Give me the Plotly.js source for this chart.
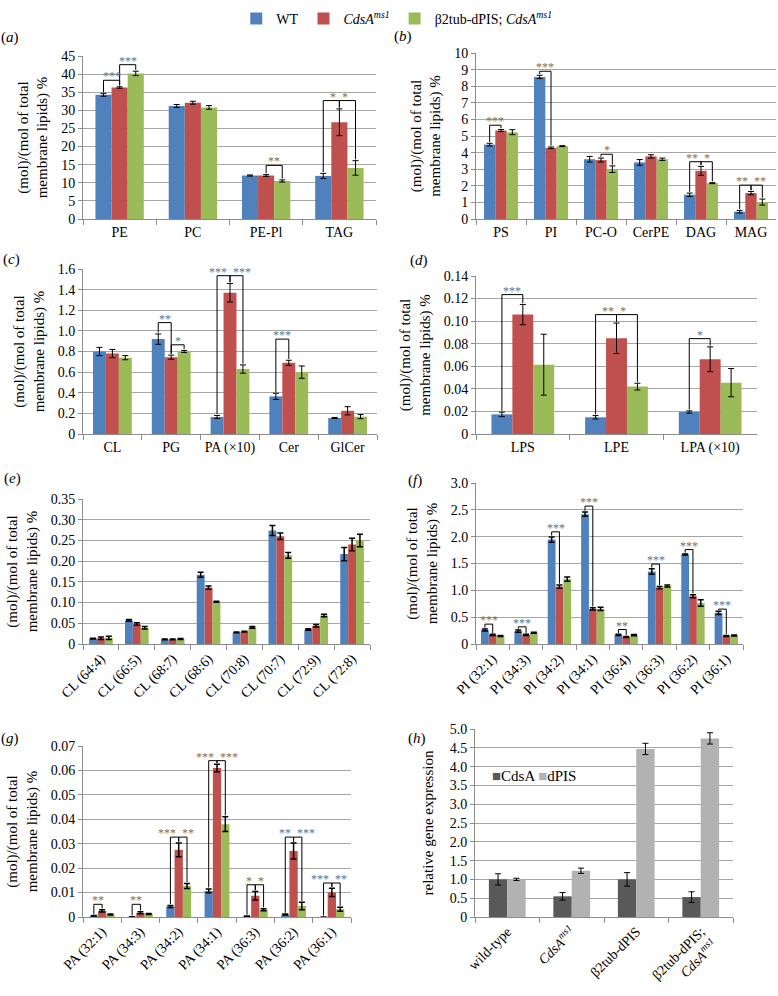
<!DOCTYPE html>
<html>
<head>
<meta charset="utf-8">
<script src="https://cdn.plot.ly/plotly-3.0.1.min.js"></script>
<style>
  html, body { margin: 0; padding: 0; background: #fff; }
  #chart { width: 778px; height: 996px; }
</style>
</head>
<body>
<div id="chart"></div>
<script>
// lipid profiles, three genotypes (WT, CdsA, rescue)
const seriesNames = ['WT', '<i>CdsA</i><sup><i>ms1</i></sup>', 'β2tub-dPIS; <i>CdsA</i><sup><i>ms1</i></sup>'];

// (a)
const catsA = ['PE', 'PC', 'PE-Pl', 'TAG'];
const wtA = [34.3, 31.2, 12.0, 11.9];
const wtErrA = [0.4, 0.4, 0.15, 0.7];
const cdsA = [36.3, 32.1, 12.0, 26.7];
const cdsErrA = [0.2, 0.4, 0.25, 3.7];
const rescA = [40.2, 30.8, 10.5, 14.1];
const rescErrA = [0.6, 0.5, 0.3, 2.0];

// (b)
const catsB = ['PS', 'PI', 'PC-O', 'CerPE', 'DAG', 'MAG'];
const wtB = [4.48, 8.56, 3.6, 3.41, 1.46, 0.44];
const wtErrB = [0.08, 0.1, 0.17, 0.17, 0.1, 0.08];
const cdsB = [5.33, 4.29, 3.55, 3.77, 2.9, 1.56];
const cdsErrB = [0.06, 0.05, 0.12, 0.1, 0.27, 0.1];
const rescB = [5.23, 4.39, 3.0, 3.6, 2.16, 1.02];
const rescErrB = [0.15, 0.03, 0.2, 0.07, 0.03, 0.18];

// (c)
const catsC = ['CL', 'PG', 'PA (×10)', 'Cer', 'GlCer'];
const wtC = [0.8, 0.92, 0.165, 0.365, 0.155];
const wtErrC = [0.04, 0.05, 0.015, 0.03, 0.005];
const cdsC = [0.78, 0.745, 1.37, 0.69, 0.225];
const cdsErrC = [0.04, 0.02, 0.09, 0.025, 0.04];
const rescC = [0.74, 0.8, 0.63, 0.6, 0.168];
const rescErrC = [0.02, 0.01, 0.04, 0.06, 0.02];

// (d)
const catsD = ['LPS', 'LPE', 'LPA (×10)'];
const wtD = [0.0174, 0.0148, 0.0195];
const wtErrD = [0.002, 0.0015, 0.001];
const cdsD = [0.1058, 0.0848, 0.0662];
const cdsErrD = [0.009, 0.0135, 0.011];
const rescD = [0.0614, 0.042, 0.0455];
const rescErrD = [0.027, 0.003, 0.0125];

// (e)
const catsE = ['CL (64:4)', 'CL (66:5)', 'CL (68:7)', 'CL (68:6)', 'CL (70:8)', 'CL (70:7)', 'CL (72:9)', 'CL (72:8)'];
const wtE = [0.013, 0.057, 0.011, 0.167, 0.028, 0.274, 0.035, 0.217];
const wtErrE = [0.001, 0.002, 0.001, 0.006, 0.001, 0.012, 0.002, 0.016];
const cdsE = [0.014, 0.048, 0.011, 0.136, 0.030, 0.260, 0.044, 0.240];
const cdsErrE = [0.003, 0.003, 0.001, 0.004, 0.001, 0.008, 0.003, 0.015];
const rescE = [0.015, 0.039, 0.012, 0.102, 0.040, 0.214, 0.069, 0.250];
const rescErrE = [0.004, 0.003, 0.001, 0.001, 0.002, 0.007, 0.003, 0.015];

// (f)
const catsF = ['PI (32:1)', 'PI (34:3)', 'PI (34:2)', 'PI (34:1)', 'PI (36:4)', 'PI (36:3)', 'PI (36:2)', 'PI (36:1)'];
const wtF = [0.26, 0.24, 1.945, 2.42, 0.17, 1.35, 1.667, 0.58];
const wtErrF = [0.02, 0.02, 0.05, 0.04, 0.01, 0.05, 0.01, 0.03];
const cdsF = [0.17, 0.17, 1.07, 0.654, 0.13, 1.05, 0.89, 0.15];
const cdsErrF = [0.01, 0.01, 0.03, 0.02, 0.01, 0.02, 0.03, 0.01];
const rescF = [0.15, 0.21, 1.21, 0.654, 0.165, 1.08, 0.765, 0.16];
const rescErrF = [0.01, 0.01, 0.04, 0.03, 0.01, 0.02, 0.06, 0.01];

// (g)
const catsG = ['PA (32:1)', 'PA (34:3)', 'PA (34:2)', 'PA (34:1)', 'PA (36:3)', 'PA (36:2)', 'PA (36:1)'];
const wtG = [0.0005, 0.0001, 0.0043, 0.0107, 0.0003, 0.001, 0];
const wtErrG = [0.0001, 0, 0.0004, 0.0008, 0.0001, 0.0002, 0];
const cdsG = [0.0025, 0.0017, 0.0275, 0.061, 0.0087, 0.027, 0.0101];
const cdsErrG = [0.0005, 0.0004, 0.0028, 0.0015, 0.0017, 0.0033, 0.0017];
const rescG = [0.001, 0.0012, 0.0127, 0.038, 0.003, 0.0045, 0.0032];
const rescErrG = [0.0002, 0.0002, 0.001, 0.003, 0.0004, 0.0015, 0.0008];

// (h) qPCR
const catsH = ['wild-type', '<i>CdsA</i><sup><i>ms1</i></sup>', 'β2tub-dPIS', 'β2tub-dPIS;<br><i>CdsA</i><sup><i>ms1</i></sup>'];
const genesH = ['CdsA', 'dPIS'];
const cdsaH = [1.0, 0.55, 1.0, 0.53];
const cdsaErrH = [0.15, 0.1, 0.18, 0.14];
const dpisH = [1.0, 1.23, 4.47, 4.75];
const dpisErrH = [0.03, 0.07, 0.15, 0.15];

// y ticks
const ticksA = ['0', '5', '10', '15', '20', '25', '30', '35', '40', '45'];
const ticksB = ['0', '1', '2', '3', '4', '5', '6', '7', '8', '9', '10'];
const ticksC = ['0', '0.2', '0.4', '0.6', '0.8', '1.0', '1.2', '1.4', '1.6'];
const ticksD = ['0', '0.02', '0.04', '0.06', '0.08', '0.10', '0.12', '0.14'];
const ticksE = ['0', '0.05', '0.10', '0.15', '0.20', '0.25', '0.30', '0.35'];
const ticksF = ['0', '0.5', '1.0', '1.5', '2.0', '2.5', '3.0'];
const ticksG = ['0', '0.01', '0.02', '0.03', '0.04', '0.05', '0.06', '0.07'];
const ticksH = ['0', '0.5', '1.0', '1.5', '2.0', '2.5', '3.0', '3.5', '4.0', '4.5', '5.0'];

// significance brackets: [category, series from, series to, bracket top, stars]
const sigA = [[0, 0, 1, 38.3, '***'], [0, 1, 2, 42.6, '***'], [2, 1, 2, 14.8, '**'], [3, 0, 1, 32.7, '*'], [3, 1, 2, 32.7, '*']];
const sigB = [[0, 0, 1, 5.65, '***'], [1, 0, 1, 8.9, '***'], [2, 1, 2, 3.9, '*'], [4, 0, 1, 3.45, '**'], [4, 1, 2, 3.45, '*'], [5, 0, 1, 2.04, '**'], [5, 1, 2, 2.04, '**']];
const sigC = [[1, 0, 1, 1.08, '**'], [1, 1, 2, 0.865, '*'], [2, 0, 1, 1.535, '***'], [2, 1, 2, 1.535, '***'], [3, 0, 1, 0.92, '***']];
const sigD = [[0, 0, 1, 0.1235, '***'], [1, 0, 1, 0.1058, '**'], [1, 1, 2, 0.1058, '*'], [2, 0, 1, 0.0845, '*']];
const sigF = [[0, 0, 1, 0.37, '***'], [1, 0, 1, 0.32, '***'], [2, 0, 1, 2.09, '***'], [3, 0, 1, 2.57, '***'], [4, 0, 1, 0.27, '**'], [5, 0, 1, 1.49, '***'], [6, 0, 1, 1.76, '***'], [7, 0, 1, 0.65, '***']];
const sigG = [[0, 0, 1, 0.0052, '**'], [1, 0, 1, 0.0052, '**'], [2, 0, 1, 0.0327, '***'], [2, 1, 2, 0.0327, '**'], [3, 0, 1, 0.064, '***'], [3, 1, 2, 0.064, '***'], [4, 0, 1, 0.0132, '*'], [4, 1, 2, 0.0132, '*'], [5, 0, 1, 0.0327, '**'], [5, 1, 2, 0.0327, '***'], [6, 0, 1, 0.0139, '***'], [6, 1, 2, 0.0139, '**']];

const colors3 = ['#4f81bd', '#c0504d', '#9bbb59'];
const colorsH = ['#595959', '#b2b2b2'];
const W = 778, H = 996;
const FONT = '"Liberation Serif", "Times New Roman", serif';

function xdom(a, b) { return [a / W, b / W]; }
function ydom(top, bottom) { return [1 - bottom / H, 1 - top / H]; }

let traces = [];
let shapes = [];
let annotations = [];
let layout = {
  width: W, height: H,
  margin: {l: 0, r: 0, t: 0, b: 0},
  paper_bgcolor: '#fff', plot_bgcolor: '#fff',
  font: {family: FONT, size: 14, color: '#000'},
  showlegend: true,
  legend: {
    orientation: 'h', x: 0.51, xanchor: 'center', y: 1 - 3 / H, yanchor: 'top',
    font: {family: FONT, size: 14}, traceorder: 'normal'
  }
};

function panel(n, cats, vals, errs, colors, names, gap, ticks, dx, dy, opts) {
  const ax = n === 1 ? '' : String(n);
  const k = vals.length;
  const w = (1 - gap) / k;
  for (let s = 0; s < k; s++) {
    traces.push({
      type: 'bar', x: cats, y: vals[s], name: names[s],
      xaxis: 'x' + ax, yaxis: 'y' + ax,
      marker: {color: colors[s]},
      width: w, offset: -(1 - gap) / 2 + s * w,
      error_y: {type: 'data', array: errs[s], color: '#000', thickness: opts.eth || 1, width: 3},
      showlegend: !!opts.legend, hoverinfo: 'skip'
    });
  }
  const tv = ticks.map(Number);
  const yr = tv[tv.length - 1];
  layout['xaxis' + ax] = {
    domain: xdom(dx[0], dx[1]), anchor: 'y' + ax, type: 'category',
    showline: true, linecolor: '#8c8c8c', linewidth: 1,
    ticks: 'outside', tickson: 'boundaries', ticklen: 5, tickcolor: '#8c8c8c',
    showgrid: false, tickangle: opts.angle || 0,
    tickfont: {family: FONT, size: 14},
    fixedrange: true
  };
  layout['yaxis' + ax] = {
    domain: ydom(dy[0], dy[1]), anchor: 'x' + ax, range: [0, yr],
    tickmode: 'array', tickvals: tv, ticktext: ticks,
    showline: true, linecolor: '#8c8c8c', ticks: 'outside', ticklen: 4, tickcolor: '#8c8c8c',
    showgrid: true, gridcolor: '#a6a6a6', gridwidth: 1, zeroline: false,
    tickfont: {family: FONT, size: 14},
    title: {text: opts.ytitle, font: {family: FONT, size: 15}, standoff: opts.standoff || 9},
    fixedrange: true
  };
  // brackets
  const sig = opts.sig || [];
  const pad = yr * 0.008;
  sig.forEach(function (b) {
    const i = b[0], s1 = b[1], s2 = b[2], top = b[3];
    const x1 = i - (1 - gap) / 2 + (s1 + 0.5) * w;
    const x2 = i - (1 - gap) / 2 + (s2 + 0.5) * w;
    const y1 = vals[s1][i] + errs[s1][i] + pad;
    const y2 = vals[s2][i] + errs[s2][i] + pad;
    const base = {type: 'line', xref: 'x' + ax, yref: 'y' + ax, line: {color: '#000', width: 1}};
    shapes.push(Object.assign({}, base, {x0: x1, x1: x1, y0: y1, y1: top}));
    shapes.push(Object.assign({}, base, {x0: x1, x1: x2, y0: top, y1: top}));
    shapes.push(Object.assign({}, base, {x0: x2, x1: x2, y0: top, y1: y2}));
    // neighbouring brackets on the same group: push labels apart
    const hasRight = sig.some(o => o !== b && o[0] === i && o[1] === s2 && o[3] === top);
    const hasLeft = sig.some(o => o !== b && o[0] === i && o[2] === s1 && o[3] === top);
    let xa = 'center', xx = (x1 + x2) / 2, xs = 0;
    if (hasRight) { xa = 'right'; xx = x2; xs = -1; }
    else if (hasLeft) { xa = 'left'; xx = x1; xs = 1; }
    annotations.push({
      xref: 'x' + ax, yref: 'y' + ax, x: xx, y: top, xanchor: xa, xshift: xs,
      yanchor: 'bottom', yshift: -5,
      text: b[4], showarrow: false, font: {family: FONT, size: 12, color: '#707070'}
    });
  });
}

const lipidTitle = '(mol)/(mol of total<br>membrane lipids) %';

panel(1, catsA, [wtA, cdsA, rescA], [wtErrA, cdsErrA, rescErrA], colors3, seriesNames, 0.34, ticksA,
  [83, 376], [56, 219], {ytitle: lipidTitle, sig: sigA, legend: true});
panel(2, catsB, [wtB, cdsB, rescB], [wtErrB, cdsErrB, rescErrB], colors3, seriesNames, 0.32, ticksB,
  [476, 776], [53, 219], {ytitle: lipidTitle, sig: sigB});
panel(3, catsC, [wtC, cdsC, rescC], [wtErrC, cdsErrC, rescErrC], colors3, seriesNames, 0.34, ticksC,
  [83, 377], [269, 434], {ytitle: lipidTitle, sig: sigC});
panel(4, catsD, [wtD, cdsD, rescD], [wtErrD, cdsErrD, rescErrD], colors3, seriesNames, 0.33, ticksD,
  [476, 757], [276, 434], {ytitle: lipidTitle, sig: sigD});
panel(5, catsE, [wtE, cdsE, rescE], [wtErrE, cdsErrE, rescErrE], colors3, seriesNames, 0.34, ticksE,
  [83, 370], [499, 644], {ytitle: lipidTitle, angle: -45, eth: 1.5});
panel(6, catsF, [wtF, cdsF, rescF], [wtErrF, cdsErrF, rescErrF], colors3, seriesNames, 0.3, ticksF,
  [476, 743], [483, 644], {ytitle: lipidTitle, sig: sigF, angle: -45, eth: 1.5});
panel(7, catsG, [wtG, cdsG, rescG], [wtErrG, cdsErrG, rescErrG], colors3, seriesNames, 0.35, ticksG,
  [83, 351], [746, 917], {ytitle: lipidTitle, sig: sigG, angle: -45, eth: 1.5});
panel(8, catsH, [cdsaH, dpisH], [cdsaErrH, dpisErrH], colorsH, genesH, 0.43, ticksH,
  [475, 733], [729, 917], {ytitle: 'relative gene expression', angle: -45, standoff: 12});

// compact in-plot key for (h)
annotations.push({
  xref: 'paper', yref: 'paper', x: 490 / W, y: 1 - 776 / H, xanchor: 'left', yanchor: 'middle',
  showarrow: false, font: {family: FONT, size: 15},
  text: genesH.map((g, i) => '<span style="color:' + colorsH[i] + '">■</span>' + g).join(' ')
});

// panel letters
const letters = [['a', 10, 37], ['b', 403, 36], ['c', 11, 259], ['d', 419, 260],
                 ['e', 12, 478], ['f', 415, 480], ['g', 10, 738], ['h', 417, 738]];
letters.forEach(function (l) {
  annotations.push({
    xref: 'paper', yref: 'paper', x: l[1] / W, y: 1 - l[2] / H, xanchor: 'center', yanchor: 'middle',
    text: '(<i>' + l[0] + '</i>)', showarrow: false, font: {family: FONT, size: 15}
  });
});

layout.shapes = shapes;
layout.annotations = annotations;

Plotly.newPlot('chart', traces, layout, {displayModeBar: false, staticPlot: true});
</script>
</body>
</html>
